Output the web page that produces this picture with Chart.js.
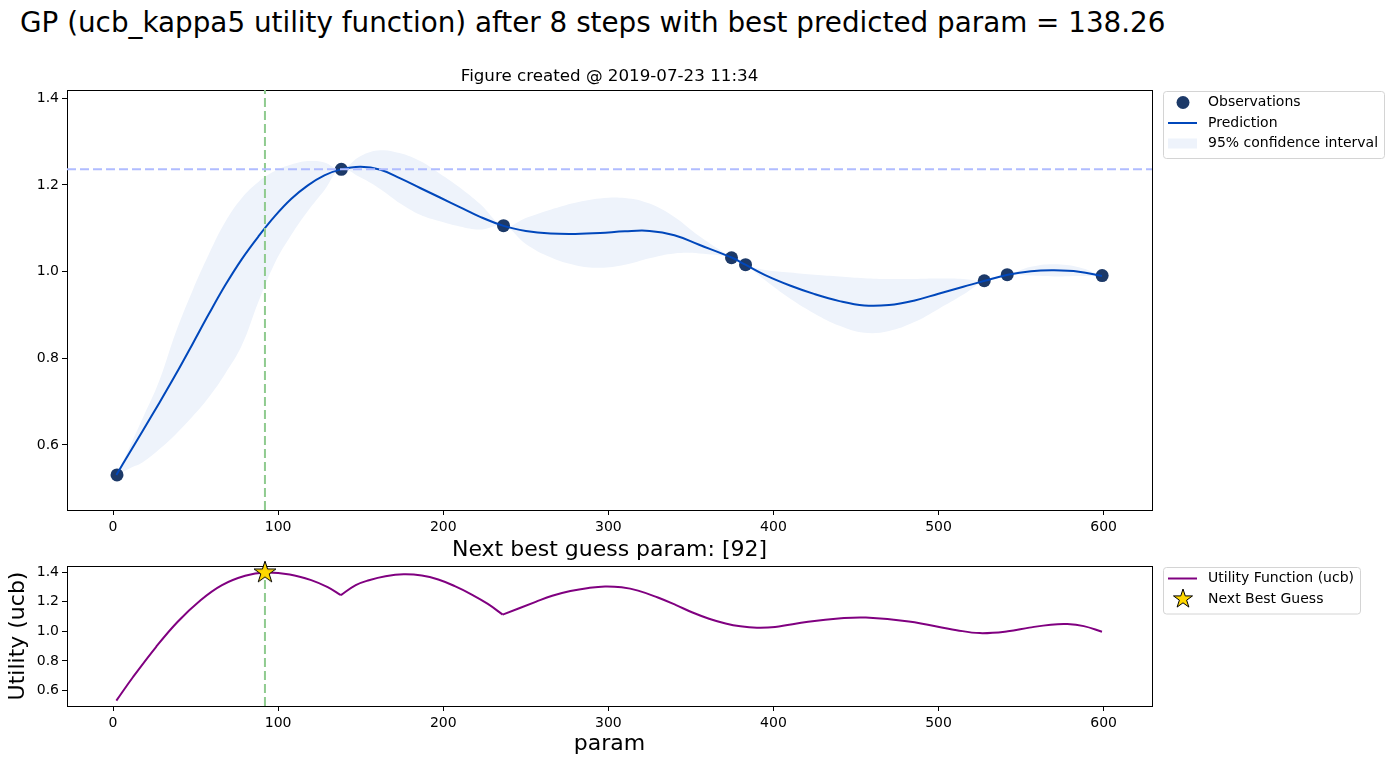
<!DOCTYPE html>
<html>
<head>
<meta charset="utf-8">
<script src="https://cdn.jsdelivr.net/npm/chart.js@4.4.1/dist/chart.umd.min.js"></script>
<style>
html,body{margin:0;padding:0;background:#fff;}
body{width:1391px;height:765px;position:relative;overflow:hidden;font-family:'DejaVu Sans',sans-serif;}
#suptitle{position:absolute;left:20px;top:7px;font-size:27.8px;line-height:32px;white-space:nowrap;color:#000;}
.box{position:absolute;left:0;width:1391px;}
#topBox{top:55px;height:485px;}
#botBox{top:530px;height:231px;}
</style>
</head>
<body>
<div id="suptitle">GP (ucb_kappa5 utility function) after 8 steps with best predicted param = 138.26</div>
<div class="box" id="topBox"><canvas id="gpChart"></canvas></div>
<div class="box" id="botBox"><canvas id="utilChart"></canvas></div>
<script>
// observations
const obsX = [2.4, 138.26, 236.5, 374.6, 383.1, 527.7, 541.6, 599.1];
const obsY = [0.531, 1.236, 1.106, 1.032, 1.016, 0.979, 0.993, 0.991];

// GP prediction and 95% band (same x grid)
const predX = [2, 10, 18, 28, 38, 48, 58, 68, 78, 88, 98, 108, 118, 128, 138, 150, 162, 174, 186, 198,
  210, 222, 237, 250, 265, 280, 295, 310, 325, 340, 355, 375, 383, 395, 410, 425, 440, 455, 470, 485,
  500, 515, 528, 542, 556, 570, 585, 599];
const predY = [0.531, 0.582, 0.633, 0.697, 0.763, 0.832, 0.902, 0.969, 1.029, 1.081, 1.128, 1.168, 1.199, 1.222, 1.236, 1.242, 1.235, 1.215, 1.193, 1.171,
  1.149, 1.127, 1.105, 1.094, 1.088, 1.087, 1.089, 1.093, 1.094, 1.084, 1.062, 1.032, 1.016, 0.992, 0.968, 0.948, 0.932, 0.922, 0.923, 0.933,
  0.949, 0.965, 0.979, 0.993, 1.001, 1.003, 1.000, 0.990];
const upperY = [0.531, 0.595, 0.662, 0.748, 0.860, 0.955, 1.040, 1.115, 1.170, 1.207, 1.232, 1.247, 1.255, 1.252, 1.236, 1.267, 1.280, 1.273, 1.255, 1.226,
  1.194, 1.157, 1.105, 1.124, 1.143, 1.159, 1.169, 1.170, 1.157, 1.126, 1.082, 1.032, 1.016, 1.004, 0.998, 0.993, 0.989, 0.985, 0.983, 0.983,
  0.984, 0.983, 0.979, 0.993, 1.011, 1.017, 1.010, 0.990];
const lowerY = [0.531, 0.546, 0.560, 0.590, 0.625, 0.665, 0.710, 0.765, 0.830, 0.930, 1.020, 1.085, 1.140, 1.188, 1.236, 1.217, 1.190, 1.157, 1.131, 1.116,
  1.104, 1.097, 1.105, 1.064, 1.033, 1.015, 1.009, 1.016, 1.031, 1.042, 1.042, 1.032, 1.016, 0.980, 0.938, 0.903, 0.875, 0.859, 0.863, 0.883,
  0.914, 0.947, 0.979, 0.993, 0.991, 0.989, 0.990, 0.990];

// utility function (ucb)
const utilX = [2, 12, 26, 39, 53, 66, 80, 92, 107, 120, 130, 138, 147, 155, 165, 176, 187, 197, 207, 217, 227, 236,
  256, 266, 277, 288, 298, 308, 318, 330, 341, 351, 361, 371, 380, 390, 401, 421, 441, 456, 482, 511, 525, 542, 555, 568, 578, 588, 599];
const utilY = [0.532, 0.69, 0.894, 1.063, 1.21, 1.312, 1.375, 1.397, 1.384, 1.346, 1.298, 1.244, 1.312, 1.345, 1.372, 1.385, 1.377, 1.350, 1.305, 1.250, 1.185, 1.113,
  1.199, 1.240, 1.272, 1.293, 1.303, 1.297, 1.275, 1.228, 1.177, 1.127, 1.085, 1.053, 1.034, 1.025, 1.030, 1.065, 1.088, 1.093, 1.066, 1.008, 0.988, 1.0, 1.025, 1.045, 1.049, 1.035, 0.997];
const utilKinks = [11, 21]; // kinks at observed points 138 and 236

const bestY = 1.236;
const nextX = 92;
const nextY = 1.40;

const xRange = [-27.9, 629.3];
const topYRange = [0.45, 1.419];
const botYRange = [0.496, 1.441];

Chart.defaults.font.family = 'DejaVu Sans';
Chart.defaults.color = '#000';

const pts = (xs, ys) => xs.map((x, i) => ({x: x, y: ys[i]}));

// gold star used as point style
function drawStar(ctx, cx, cy, r) {
  ctx.beginPath();
  for (let i = 0; i < 10; i++) {
    const rr = i % 2 === 0 ? r : r * 0.382;
    const a = -Math.PI / 2 + i * Math.PI / 5;
    ctx.lineTo(cx + rr * Math.cos(a), cy + rr * Math.sin(a));
  }
  ctx.closePath();
  ctx.fillStyle = '#ffd700';
  ctx.fill();
  ctx.strokeStyle = '#000';
  ctx.lineWidth = 1;
  ctx.stroke();
}
const starImg = document.createElement('canvas');
starImg.width = 26; starImg.height = 26;
drawStar(starImg.getContext('2d'), 13, 13.5, 11.5);

function frame() {
  return {
    id: 'frame',
    beforeDatasetsDraw(chart) {
      const a = chart.chartArea;
      const ctx = chart.ctx;
      ctx.save();
      ctx.strokeStyle = '#000';
      ctx.lineWidth = 1;
      ctx.strokeRect(Math.round(a.left) + 0.5, Math.round(a.top) + 0.5, Math.round(a.right - a.left), Math.round(a.bottom - a.top));
      ctx.restore();
    }
  };
}

function boxLegend(items) {
  return {
    id: 'boxLegend',
    afterDraw(chart) {
      const {ctx, chartArea} = chart;
      ctx.save();
      ctx.font = '14px "DejaVu Sans"';
      const left = Math.round(chartArea.right) + 11, top = Math.round(chartArea.top) + 1;
      const textX = left + 45;
      let w = 0;
      items.forEach(it => { w = Math.max(w, ctx.measureText(it.label).width); });
      const bw = textX - left + w + 6, bh = items.length * 20.5 + 5.5;
      ctx.beginPath();
      ctx.roundRect(left + 0.5, top + 0.5, bw, bh, 3);
      ctx.fillStyle = 'rgba(255,255,255,0.8)';
      ctx.fill();
      ctx.strokeStyle = '#d4d4d4';
      ctx.lineWidth = 1;
      ctx.stroke();
      items.forEach((it, i) => {
        const cy = top + 11.5 + i * 20.5;
        const hx = left + 20;
        if (it.kind === 'dot') {
          ctx.beginPath();
          ctx.arc(hx, cy, 6.5, 0, Math.PI * 2);
          ctx.fillStyle = it.color;
          ctx.fill();
        } else if (it.kind === 'line') {
          ctx.beginPath();
          ctx.moveTo(left + 5, cy);
          ctx.lineTo(left + 34, cy);
          ctx.strokeStyle = it.color;
          ctx.lineWidth = 2;
          ctx.stroke();
        } else if (it.kind === 'patch') {
          ctx.fillStyle = it.color;
          ctx.fillRect(left + 5, cy - 5, 29, 10);
        } else if (it.kind === 'star') {
          drawStar(ctx, hx, cy, 10);
        }
        ctx.fillStyle = '#000';
        ctx.textBaseline = 'middle';
        ctx.textAlign = 'left';
        ctx.fillText(it.label, textX, cy);
      });
      ctx.restore();
    }
  };
}

const tickFont = {size: 14};
function xAxis(height, title) {
  return {
    type: 'linear', min: xRange[0], max: xRange[1],
    ticks: {stepSize: 100, includeBounds: false, font: tickFont, color: '#000', padding: 4},
    grid: {drawOnChartArea: false, drawTicks: true, tickLength: 5, color: '#000', tickColor: '#000'},
    border: {display: false},
    title: title,
    afterFit: s => { s.height = height; }
  };
}
function yAxis(range, title) {
  return {
    type: 'linear', min: range[0], max: range[1],
    ticks: {stepSize: 0.2, includeBounds: false, font: tickFont, color: '#000', padding: 3,
      callback: v => v.toFixed(1)},
    grid: {drawOnChartArea: false, drawTicks: true, tickLength: 5, color: '#000', tickColor: '#000'},
    border: {display: false},
    title: title,
    afterFit: s => { s.width = 67; }
  };
}

const BAND = '#eef3fb';
const PRED = '#0047bb';
const OBS = '#1c3968';
const GREEN = '#8fcb8f';
const HLINE = '#b0bcff';
const PURPLE = '#800080';
const SMOOTH = 0.4;

new Chart(document.getElementById('gpChart'), {
  type: 'line',
  data: {
    datasets: [
      {label: 'lower', data: pts(predX, lowerY), borderWidth: 0, pointRadius: 0, fill: false,
        tension: SMOOTH, order: 6},
      {label: '95% confidence interval', data: pts(predX, upperY), borderWidth: 0, pointRadius: 0,
        fill: '-1', backgroundColor: BAND, tension: SMOOTH, order: 5},
      {label: 'Observations', data: pts(obsX, obsY), showLine: false, pointRadius: 6.5,
        pointBackgroundColor: OBS, pointBorderWidth: 0, order: 3},
      {label: 'Prediction', data: pts(predX, predY), borderColor: PRED, borderWidth: 2, pointRadius: 0,
        fill: false, tension: SMOOTH, order: 2},
      {label: 'best', data: [{x: xRange[0], y: bestY}, {x: xRange[1], y: bestY}], borderColor: HLINE,
        borderWidth: 2, borderDash: [9, 4], pointRadius: 0, fill: false, order: 1},
      {label: 'next', data: [{x: nextX, y: topYRange[0]}, {x: nextX, y: topYRange[1]}], borderColor: GREEN,
        borderWidth: 2, borderDash: [9, 4], pointRadius: 0, fill: false, order: 1}
    ]
  },
  options: {
    responsive: true,
    maintainAspectRatio: false,
    animation: false,
    events: [],
    layout: {padding: {left: 0, right: 239, top: 0, bottom: 0}},
    scales: {
      x: xAxis(30, {display: false}),
      y: yAxis(topYRange, {display: false})
    },
    plugins: {
      legend: {display: false},
      tooltip: {enabled: false},
      title: {display: true, text: 'Figure created @ 2019-07-23 11:34', color: '#000', fullSize: false,
        font: {size: 16.7, weight: 'normal'}, padding: {top: 12, bottom: 3}}
    }
  },
  plugins: [frame(), boxLegend([
    {label: 'Observations', kind: 'dot', color: OBS},
    {label: 'Prediction', kind: 'line', color: PRED},
    {label: '95% confidence interval', kind: 'patch', color: BAND}
  ])]
});

// split the utility curve at its kinks so each piece is smooth on its own
const cuts = [0].concat(utilKinks, [utilX.length - 1]);
const utilSets = [];
for (let i = 0; i < cuts.length - 1; i++) {
  utilSets.push({
    label: 'Utility Function (ucb)',
    data: pts(utilX.slice(cuts[i], cuts[i + 1] + 1), utilY.slice(cuts[i], cuts[i + 1] + 1)),
    borderColor: PURPLE, borderWidth: 2, pointRadius: 0, fill: false,
    tension: SMOOTH, order: 2
  });
}

new Chart(document.getElementById('utilChart'), {
  type: 'line',
  data: {
    datasets: utilSets.concat([
      {label: 'next', data: [{x: nextX, y: botYRange[0]}, {x: nextX, y: botYRange[1]}], borderColor: GREEN,
        borderWidth: 2, borderDash: [9, 4], pointRadius: 0, fill: false, order: 3},
      {label: 'Next Best Guess', data: [{x: nextX, y: nextY}], showLine: false, pointStyle: starImg,
        pointRadius: 12, clip: false, order: 0}
    ])
  },
  options: {
    responsive: true,
    maintainAspectRatio: false,
    animation: false,
    events: [],
    layout: {padding: {left: 0, right: 239, top: 0, bottom: 0}},
    scales: {
      x: xAxis(55, {display: true, text: 'param', color: '#000', font: {size: 22}, padding: {top: 4, bottom: 4}}),
      y: yAxis(botYRange, {display: true, text: 'Utility (ucb)', color: '#000', font: {size: 22}, padding: {top: 5, bottom: 4}})
    },
    plugins: {
      legend: {display: false},
      tooltip: {enabled: false},
      title: {display: true, text: 'Next best guess param: [92]', color: '#000', fullSize: false,
        font: {size: 22, weight: 'normal'}, padding: {top: 7.5, bottom: 2.1}}
    }
  },
  plugins: [frame(), boxLegend([
    {label: 'Utility Function (ucb)', kind: 'line', color: PURPLE},
    {label: 'Next Best Guess', kind: 'star'}
  ])]
});
</script>
</body>
</html>
